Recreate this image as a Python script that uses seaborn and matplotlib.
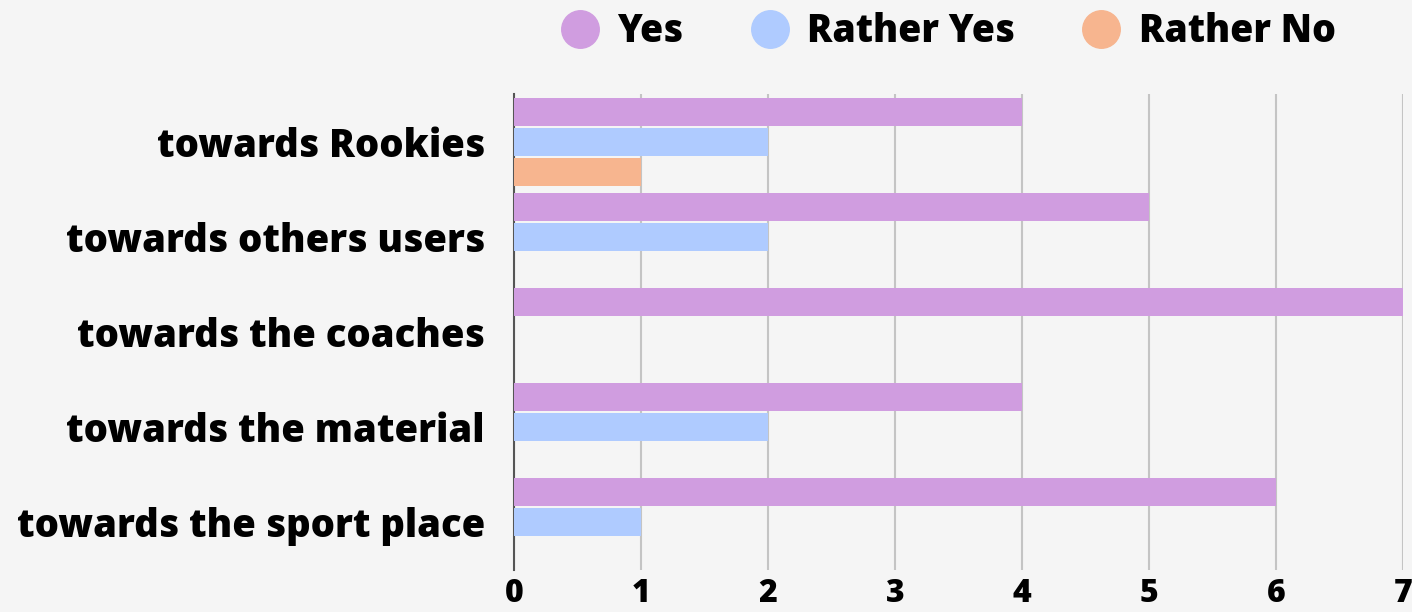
import matplotlib
matplotlib.use("Agg")
import matplotlib.pyplot as plt
from matplotlib.lines import Line2D
import seaborn as sns
import pandas as pd

categories = ["towards Rookies", "towards others users", "towards the coaches",
              "towards the material", "towards the sport place"]
series = ["Yes", "Rather Yes", "Rather No"]
yes_vals = [4, 5, 7, 4, 6]
rather_yes_vals = [2, 2, 0, 2, 1]
rather_no_vals = [1, 0, 0, 0, 0]
x_ticks = [0, 1, 2, 3, 4, 5, 6, 7]
colors = ["#D09DE0", "#AFCBFF", "#F7B58F"]

rows = []
for s, vals in zip(series, [yes_vals, rather_yes_vals, rather_no_vals]):
    for c, v in zip(categories, vals):
        rows.append({"category": c, "series": s, "value": v})
df = pd.DataFrame(rows)

sns.set_theme(style="white")
plt.rcParams["font.family"] = ["Open Sans", "DejaVu Sans"]
bg = "#F5F5F5"
fig = plt.figure(figsize=(14.12, 6.12), dpi=100, facecolor=bg)
ax = fig.add_axes([0.364, 0.0694, 0.6296, 0.7762])
ax.set_facecolor(bg)

sns.barplot(data=df, y="category", x="value", hue="series", order=categories,
            hue_order=series, palette=colors, orient="h", width=0.95, gap=0.07,
            saturation=1, ax=ax, legend=False, zorder=3, linewidth=0)

ax.set_xlim(0, 7)
ax.set_ylim(len(categories) - 0.5, -0.5)
ax.set_xticks(x_ticks)
ax.set_xticklabels([str(t) for t in x_ticks])
ax.grid(axis="x", color="#C4C4C4", linewidth=1.5, zorder=0)
ax.grid(axis="y", visible=False)
ax.set_axisbelow(True)
for sp in ["top", "right", "bottom"]:
    ax.spines[sp].set_visible(False)
ax.spines["left"].set_color("#555555")
ax.spines["left"].set_linewidth(1.5)
ax.spines["left"].set_zorder(1)
ax.set_xlabel("")
ax.set_ylabel("")
ax.tick_params(axis="both", length=0)
ax.tick_params(axis="y", pad=21)
ax.tick_params(axis="x", pad=6)
for lab in ax.get_yticklabels():
    lab.set_fontsize(27.5)
    lab.set_fontweight("heavy")
    lab.set_color("black")
for lab in ax.get_xticklabels():
    lab.set_fontsize(23)
    lab.set_fontweight("heavy")
    lab.set_color("black")

handles = [Line2D([0], [0], marker="o", linestyle="none", markersize=27,
                  markerfacecolor=c, markeredgecolor=c) for c in colors]
fig.legend(handles, series, loc="center", bbox_to_anchor=(0.6716, 0.948), ncol=3,
           frameon=False, handlelength=1.0, handletextpad=0.5, columnspacing=1.8,
           prop={"size": 27, "weight": "heavy"}, labelcolor="black")

fig.savefig("out.png", dpi=100, facecolor=bg)
